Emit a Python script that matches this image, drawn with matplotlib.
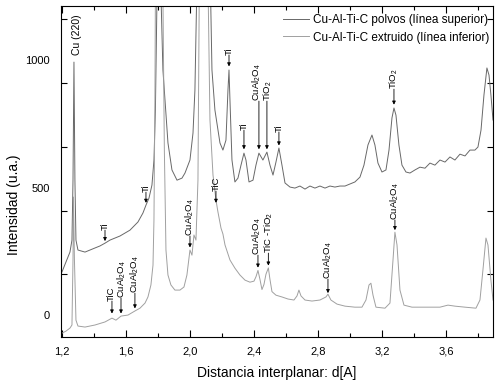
import matplotlib
matplotlib.use("Agg")
import matplotlib.pyplot as plt
import numpy as np

plt.rcParams['font.family'] = ['Liberation Sans', 'DejaVu Sans']
plt.rcParams['mathtext.fontset'] = 'custom'
plt.rcParams['mathtext.rm'] = 'Liberation Sans'
plt.rcParams['mathtext.it'] = 'Liberation Sans:italic'
plt.rcParams['mathtext.default'] = 'regular'

# ---- data ----
d_polvos = [1.200, 1.225, 1.250, 1.2625, 1.269, 1.275, 1.281, 1.2875, 1.300, 1.344,
            1.406, 1.4375, 1.469, 1.500, 1.5625, 1.625, 1.675, 1.706, 1.725, 1.744,
            1.7625, 1.775, 1.784, 1.794, 1.806, 1.819, 1.831, 1.844, 1.8625, 1.8875,
            1.919, 1.950, 1.969, 2.000, 2.019, 2.031, 2.042, 2.085, 2.129, 2.1375,
            2.156, 2.1875, 2.206, 2.225, 2.2375, 2.244, 2.250, 2.2625, 2.281, 2.300,
            2.319, 2.3375, 2.350, 2.369, 2.394, 2.4125, 2.431, 2.456, 2.481, 2.500,
            2.519, 2.5375, 2.556, 2.575, 2.594, 2.625, 2.656, 2.6875, 2.719, 2.750,
            2.781, 2.8125, 2.844, 2.875, 2.906, 2.9375, 2.969, 3.000, 3.031, 3.0625,
            3.0875, 3.1125, 3.1375, 3.156, 3.175, 3.200, 3.225, 3.244, 3.2625, 3.275,
            3.2875, 3.306, 3.325, 3.350, 3.375, 3.406, 3.4375, 3.469, 3.500, 3.531,
            3.5625, 3.594, 3.625, 3.656, 3.6875, 3.719, 3.750, 3.781, 3.800, 3.819,
            3.8375, 3.856, 3.869, 3.881, 3.894]
i_polvos = [169, 208, 247, 294, 529, 992, 529, 294, 255, 247,
            263, 271, 282, 294, 310, 333, 365, 400, 431, 459,
            510, 608, 804, 1250, 3000, 1250, 961, 843, 675, 569,
            529, 537, 557, 608, 714, 882, 1250, 3000, 1250, 961,
            804, 675, 647, 686, 882, 961, 843, 608, 522, 537,
            588, 635, 608, 522, 529, 588, 635, 608, 639, 588,
            549, 600, 655, 588, 518, 502, 498, 506, 494, 506,
            498, 506, 498, 506, 502, 506, 506, 514, 522, 541,
            588, 667, 706, 667, 596, 561, 569, 647, 773, 812,
            784, 667, 588, 561, 557, 569, 580, 576, 596, 588,
            608, 600, 620, 608, 631, 624, 647, 647, 659, 725,
            863, 969, 941, 863, 765]

d_extruido = [1.200, 1.225, 1.250, 1.2625, 1.269, 1.272, 1.278, 1.2875, 1.300, 1.344,
              1.406, 1.469, 1.5125, 1.5375, 1.569, 1.6125, 1.656, 1.6875, 1.719, 1.7375,
              1.756, 1.769, 1.775, 1.781, 1.784, 1.806, 1.831, 1.840, 1.850, 1.8625,
              1.881, 1.906, 1.9375, 1.9625, 1.981, 2.000, 2.0125, 2.025, 2.0375, 2.050,
              2.058, 2.086, 2.114, 2.125, 2.144, 2.1625, 2.175, 2.194, 2.206, 2.219,
              2.250, 2.281, 2.3125, 2.344, 2.375, 2.400, 2.4125, 2.425, 2.4375, 2.450,
              2.4625, 2.475, 2.490, 2.500, 2.5125, 2.5375, 2.575, 2.6125, 2.650, 2.669,
              2.681, 2.694, 2.719, 2.7625, 2.8125, 2.850, 2.8625, 2.881, 2.919, 2.969,
              3.031, 3.075, 3.100, 3.119, 3.131, 3.144, 3.1625, 3.219, 3.250, 3.269,
              3.281, 3.294, 3.3125, 3.3375, 3.3875, 3.469, 3.5625, 3.6125, 3.656, 3.719,
              3.7875, 3.8125, 3.831, 3.850, 3.8625, 3.881, 3.894]
i_extruido = [-71, -63, -51, -39, 216, 463, 216, -20, -43, -47,
              -39, -27, -12, -20, -4, 0, 16, 27, 47, 71,
              118, 196, 373, 843, 1250, 3500, 1250, 647, 255, 157,
              118, 98, 98, 110, 157, 255, 235, 314, 294, 529,
              1250, 3500, 1250, 765, 549, 451, 404, 341, 318, 275,
              216, 184, 157, 137, 129, 133, 150, 175, 140, 100,
              120, 160, 185, 140, 92, 78, 71, 63, 59, 75,
              98, 75, 59, 55, 59, 71, 82, 59, 43, 35,
              31, 31, 59, 118, 125, 78, 31, 27, 47, 216,
              325, 275, 98, 39, 31, 31, 31, 39, 35, 31,
              27, 59, 176, 302, 275, 137, 59]

serie_labels = ['Cu-Al-Ti-C polvos (línea superior)', 'Cu-Al-Ti-C extruido (línea inferior)']

# annotations: (label, d, text bottom, arrow tip, text shift in d)
anotaciones = [
    ('Ti', 1.469, 333, 290, 0.0),
    ('Ti', 1.725, 482, 440, 0.0),
    ('TiC', 1.5125, 55, 6, -0.006),
    (r'CuAl$_2$O$_4$', 1.569, 67, 6, 0.004),
    (r'CuAl$_2$O$_4$', 1.656, 86, 26, 0.0),
    (r'CuAl$_2$O$_4$', 2.000, 310, 265, 0.0),
    ('TiC', 2.1625, 486, 440, 0.0),
    ('Ti', 2.244, 1020, 975, 0.0),
    ('Ti', 2.3375, 725, 650, 0.0),
    (r'CuAl$_2$O$_4$', 2.431, 839, 650, -0.013),
    (r'TiO$_2$', 2.481, 839, 650, 0.008),
    ('Ti', 2.556, 718, 665, 0.0),
    (r'TiO$_2$', 3.275, 886, 825, 0.0),
    (r'CuAl$_2$O$_4$', 2.425, 235, 186, -0.008),
    (r'TiC -TiO$_2$', 2.490, 243, 194, 0.004),
    (r'CuAl$_2$O$_4$', 2.8625, 141, 86, 0.0),
    (r'CuAl$_2$O$_4$', 3.281, 373, 333, 0.0),
]

x_major = [1.2, 1.6, 2.0, 2.4, 2.8, 3.2, 3.6]
x_major_labels = ['1,2', '1,6', '2,0', '2,4', '2,8', '3,2', '3,6']
x_minor = [1.4, 1.8, 2.2, 2.6, 3.0, 3.4, 3.8]
y_labels_pos = [0, 500, 1000]
y_tick_marks = [160, 410, 660, 910, 1160]

# ---- plot ----
fig = plt.figure(figsize=(4.98, 3.83), dpi=100)
ax = fig.add_axes([61/498, 46/383, 432/498, 331/383])

ax.plot(d_polvos, i_polvos, color='#686868', lw=0.7, label=serie_labels[0])
ax.plot(d_extruido, i_extruido, color='#a0a0a0', lw=0.7, label=serie_labels[1])

ax.set_xlim(1.194, 3.894)
ax.set_ylim(-86, 1212)

ax.set_xticks(x_major)
ax.set_xticklabels(x_major_labels)
ax.set_xticks(x_minor, minor=True)
ax.tick_params(axis='x', which='major', direction='in', length=5, width=0.8,
               top=True, labelsize=8, pad=7)
ax.tick_params(axis='x', which='minor', direction='in', length=3, width=0.8, top=True)

ax.set_yticks(y_labels_pos)
ax.set_yticklabels([str(v) for v in y_labels_pos])
ax.set_yticks(y_tick_marks, minor=True)
ax.tick_params(axis='y', which='major', length=0, labelsize=8, pad=8)
ax.tick_params(axis='y', which='minor', direction='in', length=4, width=0.8, right=True)

for s in ax.spines.values():
    s.set_linewidth(0.8)

ax.set_xlabel('Distancia interplanar: d[A]', fontsize=10)
ax.set_ylabel('Intensidad (u.a.)', fontsize=10)
ax.xaxis.set_label_coords(0.5, -0.088)
ax.yaxis.set_label_coords(-0.092, 0.40)

ax.text(1.294, 1020, 'Cu (220)', rotation=90, ha='center', va='bottom', fontsize=7.5)

for lbl, d, yt, ytip, dx in anotaciones:
    ax.text(d + dx, yt, lbl, rotation=90, ha='center', va='bottom', fontsize=6.8)
    ax.annotate('', xy=(d, ytip), xytext=(d, yt),
                arrowprops=dict(arrowstyle='-|>', lw=0.6, color='k', shrinkA=0, shrinkB=0,
                                mutation_scale=5))

leg = ax.legend(loc='upper left', bbox_to_anchor=(0.494, 1.0), frameon=False, fontsize=8.5,
                handlelength=2.2, handletextpad=0.4, labelspacing=0.45, borderaxespad=0.3)

fig.savefig('out.png', dpi=100)
